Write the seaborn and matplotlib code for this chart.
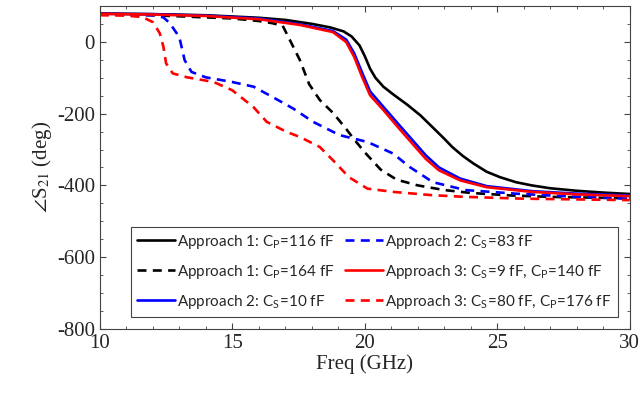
import numpy as np
import pandas as pd
import seaborn as sns
import matplotlib.pyplot as plt
from matplotlib.ticker import MultipleLocator

# curvas (freq em GHz, fase em graus)
f_a1_116 = [10, 12, 14, 16, 17, 18, 18.7, 19.2, 19.5, 19.8, 20.0, 20.2, 20.4, 20.7, 21.1, 21.6, 22.1,
            22.6, 23.0, 23.3, 23.7, 24.1, 24.6, 25.1, 25.7, 26.3, 27.0, 28.0, 29.0, 30]
s_a1_116 = [79, 77, 74, 67, 61, 50, 40, 29, 15, -10, -40, -75, -100, -125, -148, -175, -205,
            -241, -270, -293, -318, -339, -362, -377, -391, -400, -408, -415, -420, -424]

f_a1_164 = [10, 12, 14, 15, 16, 16.5, 16.9, 17.3, 17.55, 17.9, 18.3, 18.8, 19.3, 19.6, 20.0, 20.6,
            21.2, 22.0, 23.0, 24.0, 25.5, 27.0, 30]
s_a1_164 = [77, 74, 68, 65, 58, 52, 45, -14, -51, -118, -162, -198, -243, -272, -308, -356,
            -384, -400, -413, -421, -428, -432, -436]

f_a2_10 = [10, 12, 14, 16, 17.55, 18.8, 19.3, 19.6, 19.9, 20.2, 20.7, 21.3, 21.8, 22.3, 22.8, 23.6,
           24.6, 26.3, 28.0, 30]
s_a2_10 = [78, 77, 73, 65, 49, 30, 6, -32, -86, -138, -181, -232, -274, -316, -350, -381,
           -402, -416, -423, -428]

f_a2_83 = [10, 11, 12, 12.4, 12.64, 13.0, 13.2, 13.46, 14.0, 15.0, 15.8, 16.5, 17.3, 18.05, 19.05,
           20.1, 21.06, 21.7, 22.57, 23.8, 25.7, 27.5, 30]
s_a2_83 = [77, 76, 74, 68, 52, 13, -51, -84, -99, -112, -125, -153, -186, -223, -260,
           -279, -311, -349, -391, -413, -423, -430, -437]

f_a3_9 = [10, 12, 14, 16, 17.55, 18.8, 19.3, 19.6, 19.9, 20.2, 20.7, 21.3, 21.8, 22.3, 22.8, 23.6,
          24.6, 26.3, 28.0, 30]
s_a3_9 = [78, 76, 72, 63, 47, 27, -1, -42, -98, -149, -190, -242, -284, -326, -358, -386,
          -405, -418, -425, -430]

f_a3_80 = [10, 11, 11.6, 12.0, 12.26, 12.4, 12.5, 12.75, 13.3, 14.3, 15.0, 15.8, 16.3, 17.05,
           17.55, 18.3, 18.8, 19.4, 20.1, 21.06, 22.5, 23.8, 26.0, 30]
s_a3_80 = [74, 73, 69, 55, 24, -14, -60, -88, -99, -112, -135, -182, -223, -251,
           -265, -293, -330, -377, -409, -418, -427, -432, -437, -441]

series = [
    ('Approach 1: C$_\\mathregular{P}$=116 fF', f_a1_116, s_a1_116, 'black', '-'),
    ('Approach 1: C$_\\mathregular{P}$=164 fF', f_a1_164, s_a1_164, 'black', '--'),
    ('Approach 2: C$_\\mathregular{S}$=10 fF', f_a2_10, s_a2_10, 'blue', '-'),
    ('Approach 2: C$_\\mathregular{S}$=83 fF', f_a2_83, s_a2_83, 'blue', '--'),
    ('Approach 3: C$_\\mathregular{S}$=9 fF, C$_\\mathregular{P}$=140 fF', f_a3_9, s_a3_9, 'red', '-'),
    ('Approach 3: C$_\\mathregular{S}$=80 fF, C$_\\mathregular{P}$=176 fF', f_a3_80, s_a3_80, 'red', '--'),
]

sns.set_style('ticks')
plt.rcParams['font.family'] = ['Liberation Serif', 'DejaVu Serif']
plt.rcParams['mathtext.fontset'] = 'stix'
plt.rcParams['axes.unicode_minus'] = False

fig = plt.figure(figsize=(6.4, 3.94), dpi=100)
ax = fig.add_axes([0.156, 0.165, 0.828, 0.82])

for nome, f, s, cor, estilo in series:
    df = pd.DataFrame({'freq': f, 'fase': s})
    sns.lineplot(data=df, x='freq', y='fase', ax=ax, color=cor, linewidth=1.9, sort=False,
                 label=nome, dashes=False)
    if estilo == '--':
        ax.lines[-1].set_dashes((3.4, 2.4))

ax.set_xlim(10, 30)
ax.set_ylim(-800, 100)
ax.set_yticks([0, -200, -400, -600, -800])
ax.xaxis.set_major_locator(MultipleLocator(5))
ax.xaxis.set_minor_locator(MultipleLocator(1))
ax.yaxis.set_minor_locator(MultipleLocator(50))
ax.tick_params(which='both', direction='in', top=True, right=True, labelsize=15, color='#444444')
ax.tick_params(which='major', length=4)
ax.tick_params(which='minor', length=2)
for sp in ax.spines.values():
    sp.set_color('#444444')
    sp.set_linewidth(0.8)

ax.set_xlabel('Freq (GHz)', fontsize=15, labelpad=1)
ax.set_ylabel('$\\angle$S$_{21}$ (deg)', fontsize=15, labelpad=2)

leg = ax.legend(loc='lower right', ncol=2, frameon=True, fancybox=False, framealpha=1,
                edgecolor='#444444', prop={'family': ['Lato', 'DejaVu Sans'], 'size': 11},
                handlelength=2.5, handletextpad=0.1, columnspacing=0.7, labelspacing=0.78,
                borderpad=0.4, borderaxespad=0.8)
leg.get_frame().set_linewidth(0.8)

plt.savefig('out.png', dpi=100)
